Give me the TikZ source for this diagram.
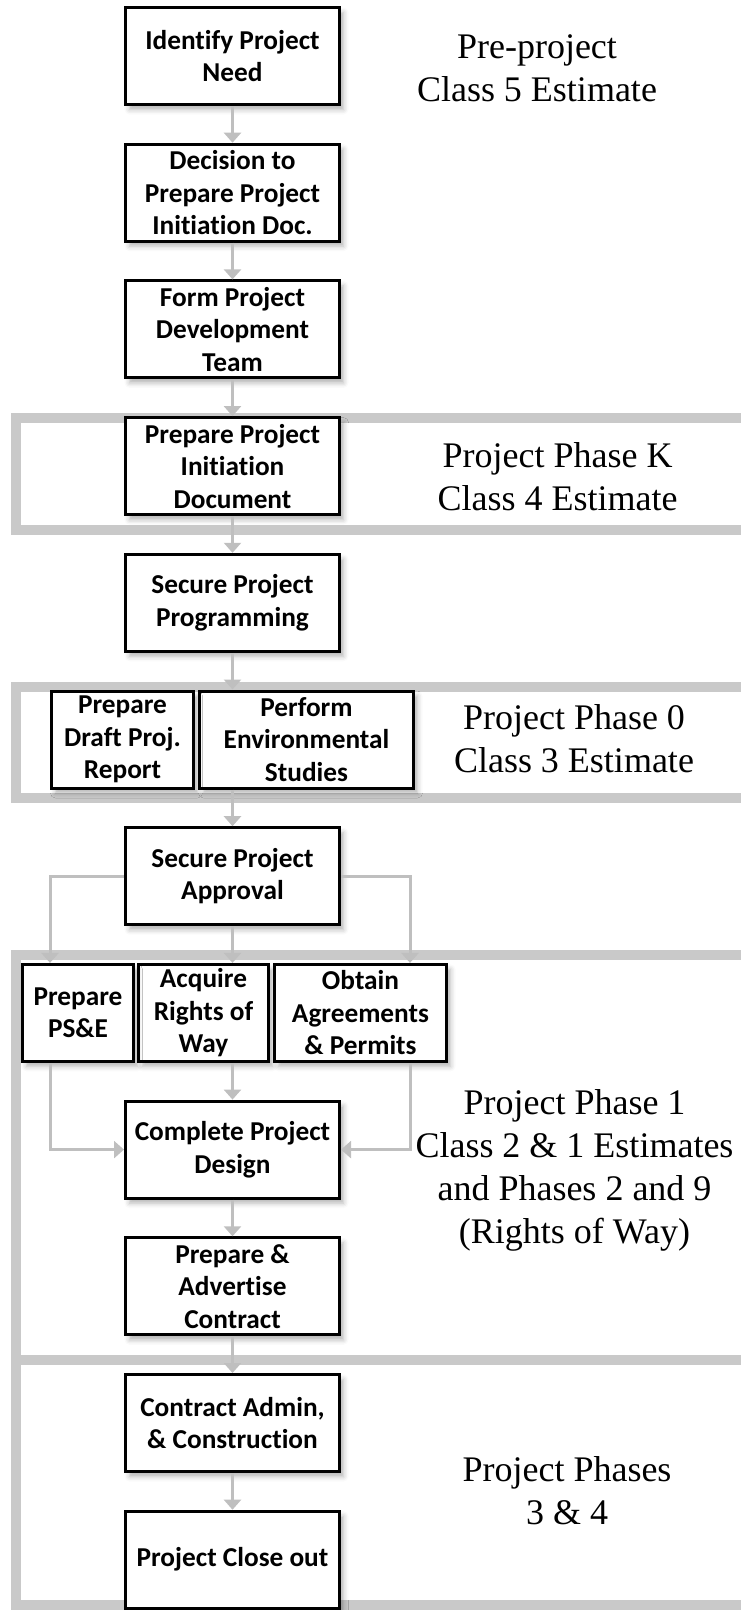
\documentclass[tikz,border=0pt]{standalone}
\usepackage{fontspec}
\setmainfont{Liberation Serif}
\newfontfamily\boxfont{Carlito}[Ligatures=NoCommon]
\definecolor{ink}{HTML}{000000}
\definecolor{link}{HTML}{BFBFBF}
\definecolor{rule}{HTML}{C9C9C9}
\usetikzlibrary{positioning,arrows.meta,shadows.blur,backgrounds}

\begin{document}
\begin{tikzpicture}[
  x=1pt,y=-1pt,
  node distance=36.7pt,
  stepbox/.style={draw=ink,line width=3pt,fill=white,
    minimum width=214pt,minimum height=97pt,align=center,inner sep=2pt,
    font=\boxfont\bfseries\fontsize{27.3pt}{32.5pt}\selectfont,
    blur shadow={shadow xshift=4pt,shadow yshift=-5pt,shadow blur radius=5pt,shadow opacity=30}},
  phase/.style={align=center,font=\fontsize{36pt}{43pt}\selectfont},
  arrow/.style={-{Triangle[width=17pt,length=10pt]},line width=3pt,link},
  band/.style={draw=rule,line width=10pt}
]
\useasboundingbox (0,0) rectangle (741,1610);
\clip (0,0) rectangle (741,1610);

% main column
\node[stepbox] (need) at (232.5,56) {Identify Project\\Need};
\node[stepbox,below=of need] (decide) {Decision to\\Prepare Project\\Initiation Doc.};
\node[stepbox,below=of decide] (team) {Form Project\\Development\\Team};
\node[stepbox,below=of team] (pid) {Prepare Project\\Initiation\\Document};
\node[stepbox,below=of pid] (prog) {Secure Project\\Programming};
\node[stepbox,below=of prog,xshift=74pt] (env) {Perform\\Environmental\\Studies};
\node[stepbox,left=3pt of env,minimum width=142pt] (draft) {Prepare\\Draft Proj.\\Report};
\node[stepbox,below=of env,xshift=-74pt] (approval) {Secure Project\\Approval};
\node[stepbox,below=of approval,xshift=-29pt,minimum width=130pt] (acq) {Acquire\\Rights of\\Way};
\node[stepbox,left=2pt of acq,minimum width=111pt] (psne) {Prepare\\PS\&E};
\node[stepbox,right=3pt of acq,minimum width=172pt] (obt) {Obtain\\Agreements\\\& Permits};
\node[stepbox,below=of acq,xshift=29pt] (design) {Complete Project\\Design};
\node[stepbox,below=of design] (advert) {Prepare \&\\Advertise\\Contract};
\node[stepbox,below=of advert] (admin) {Contract Admin,\\\& Construction};
\node[stepbox,below=of admin] (closeout) {Project Close out};

% phase labels
\node[phase] (pre) at (537,68.5) {Pre-project\\Class 5 Estimate};
\node[phase] (phk) at (557.5,476.5) {Project Phase K\\Class 4 Estimate};
\node[phase] (ph0) at (574,739) {Project Phase 0\\Class 3 Estimate};
\node[phase] (ph1) at (574.5,1170) {Project Phase 1\\Class 2 \& 1 Estimates\\and Phases 2 and 9\\(Rights of Way)};
\node[phase] (ph34) at (567,1490.5) {Project Phases\\3 \& 4};

% phase bands
\begin{scope}[on background layer]
\draw[band] (15.5,418) rectangle (780,530);
\draw[band] (15.5,687) rectangle (780,798);
\draw[band] (15.5,955) rectangle (780,1360);
\draw[band] (15.5,1360) rectangle (780,1605);
\end{scope}

\coordinate (leftbus) at (50,0);
\coordinate (rightbus) at (410,0);

\draw[arrow] (need) -- (decide);
\draw[arrow] (decide) -- (team);
\draw[arrow] (team) -- (pid);
\draw[arrow] (pid) -- (prog);
\draw[arrow] (prog) -- (prog.south |- env.north);
\draw[arrow] (approval.north |- env.south) -- (approval);
\draw[arrow] (approval.west) -| (leftbus |- psne.north);
\draw[arrow] (approval.east) -| (rightbus |- obt.north);
\draw[arrow] (approval.south) -- (approval.south |- acq.north);
\draw[arrow] (design.north |- acq.south) -- (design);
\draw[arrow] (leftbus |- psne.south) |- (design.west);
\draw[arrow] (rightbus |- obt.south) |- (design.east);
\draw[arrow] (design) -- (advert);
\draw[arrow] (advert) -- (admin);
\draw[arrow] (admin) -- (closeout);

\end{tikzpicture}
\end{document}
